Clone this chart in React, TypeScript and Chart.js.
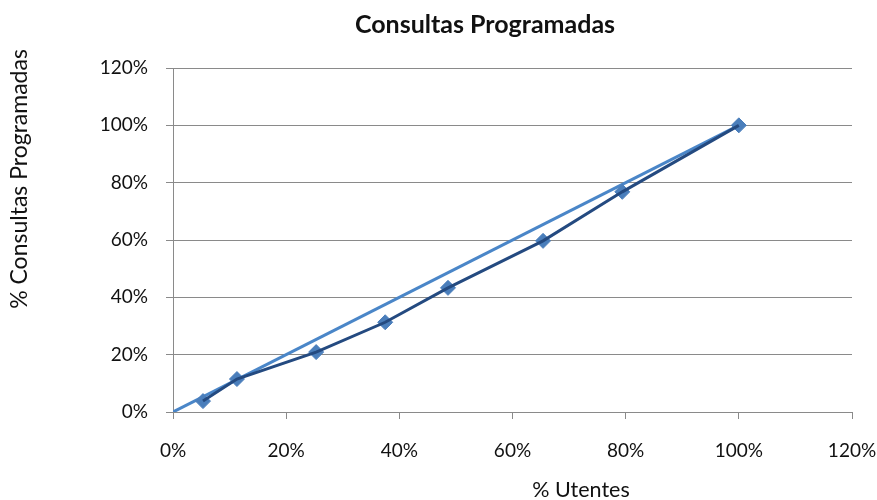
import React, { useEffect, useRef } from "react";
import { Chart, registerables } from "chart.js";

Chart.register(...registerables);

const chartTitle = "Consultas Programadas";
const xAxisTitle = "% Utentes";
const yAxisTitle = "% Consultas Programadas";

// % Utentes (x) and % Consultas Programadas (y)
const utentes = [5.3, 11.3, 25.3, 37.5, 48.6, 65.4, 79.4, 100];
const consultas = [3.8, 11.5, 20.9, 31.3, 43.3, 59.7, 76.8, 100];

// equality (reference) line
const refX = [0, 100];
const refY = [0, 100];

const axisMin = 0;
const axisMax = 120;
const axisStep = 20;

const FONT = "Lato, 'Open Sans', sans-serif";

export default function App() {
  const canvasRef = useRef<HTMLCanvasElement | null>(null);

  useEffect(() => {
    const canvas = canvasRef.current;
    if (!canvas) return;

    const toPoints = (xs: number[], ys: number[]) =>
      xs.map((x, i) => ({ x, y: ys[i] }));

    const titlesPlugin = {
      id: "customTitles",
      afterDraw(chart: any) {
        const ctx = chart.ctx as CanvasRenderingContext2D;
        ctx.save();
        ctx.fillStyle = "#111";
        ctx.textAlign = "center";
        ctx.textBaseline = "middle";
        ctx.font = `bold 25px ${FONT}`;
        ctx.fillText(chartTitle, 485, 25);
        ctx.font = `21.5px ${FONT}`;
        ctx.fillText(xAxisTitle, 581, 490);
        ctx.translate(20, 179);
        ctx.rotate(-Math.PI / 2);
        ctx.font = `23px ${FONT}`;
        ctx.fillText(yAxisTitle, 0, 0);
        ctx.restore();
      },
    };

    const chart = new Chart(canvas, {
      type: "scatter",
      data: {
        datasets: [
          {
            label: "Curva",
            data: toPoints(utentes, consultas),
            showLine: true,
            borderColor: "#244a80",
            borderWidth: 3,
            pointRadius: 0,
            pointHoverRadius: 0,
            order: 0,
          },
          {
            label: "Pontos",
            data: toPoints(utentes, consultas),
            showLine: false,
            pointStyle: "rectRot",
            pointRadius: 7.5,
            pointBackgroundColor: "#4a7ebb",
            pointBorderColor: "#4a7ebb",
            pointBorderWidth: 1,
            order: 1,
          },
          {
            label: "Igualdade",
            data: toPoints(refX, refY),
            showLine: true,
            borderColor: "#4a86c8",
            borderWidth: 3,
            pointRadius: 0,
            pointHoverRadius: 0,
            order: 2,
          },
        ],
      },
      options: {
        responsive: false,
        animation: false,
        layout: { padding: { left: 0, top: 68, right: 25, bottom: 38 } },
        plugins: {
          legend: { display: false },
          title: { display: false },
          tooltip: { enabled: false },
        },
        scales: {
          x: {
            type: "linear",
            min: axisMin,
            max: axisMax,
            afterFit: (scale: any) => {
              scale.height = 50;
              scale.paddingLeft = 0;
              scale.paddingRight = 0;
            },
            ticks: {
              stepSize: axisStep,
              padding: 20,
              color: "#111",
              font: { family: FONT, size: 19 },
              callback: (v: any) => `${v}%`,
              maxRotation: 0,
              autoSkip: false,
            },
            grid: {
              drawOnChartArea: false,
              drawTicks: true,
              tickLength: 7,
              color: "#8a8a8a",
            },
            border: { color: "#8a8a8a", width: 1 },
          },
          y: {
            type: "linear",
            min: axisMin,
            max: axisMax,
            afterFit: (scale: any) => {
              scale.width = 173;
              scale.paddingTop = 0;
              scale.paddingBottom = 0;
            },
            ticks: {
              stepSize: axisStep,
              padding: 18,
              color: "#111",
              font: { family: FONT, size: 19 },
              callback: (v: any) => `${v}%`,
            },
            grid: {
              color: "#8a8a8a",
              tickLength: 7,
            },
            border: { color: "#8a8a8a", width: 1 },
          },
        },
      },
      plugins: [titlesPlugin],
    });

    return () => chart.destroy();
  }, []);

  return (
    <div style={{ position: "absolute", left: 0, top: 0, width: 877, height: 500, background: "#fff" }}>
      <canvas ref={canvasRef} width={877} height={500} />
    </div>
  );
}
